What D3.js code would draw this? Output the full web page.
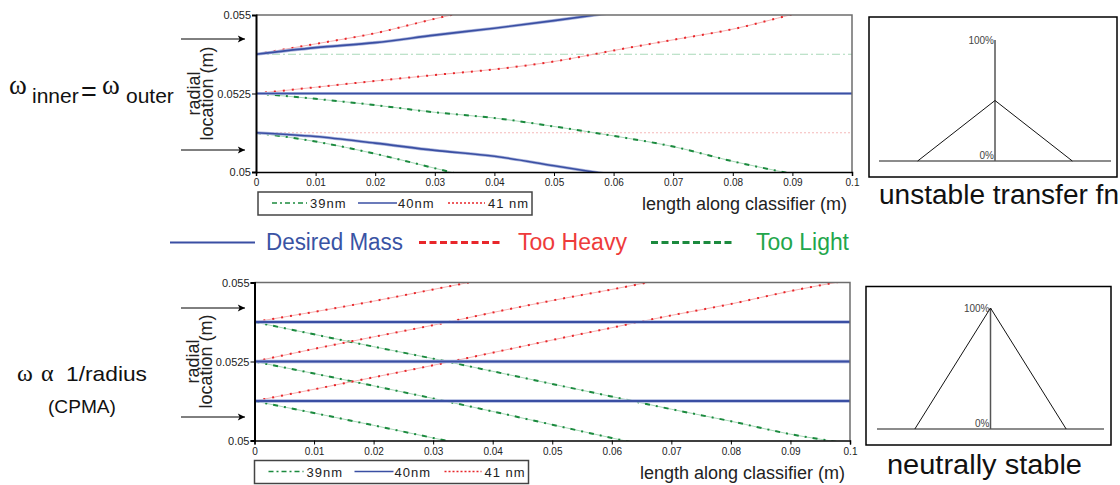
<!DOCTYPE html>
<html>
<head>
<meta charset="utf-8">
<script src="https://cdn.jsdelivr.net/npm/d3@7/dist/d3.min.js"></script>
<style>
  body { margin: 0; background: #fff; }
  svg { display: block; font-family: "Liberation Sans", Arial, sans-serif; }
</style>
</head>
<body>
<svg id="chart" width="1120" height="485"></svg>
<script>
// ---- data ----
var xSteps = [0, 0.01, 0.02, 0.03, 0.04, 0.05, 0.06, 0.07, 0.08, 0.09, 0.1];
var xTicks = [0, 0.01, 0.02, 0.03, 0.04, 0.05, 0.06, 0.07, 0.08, 0.09, 0.1];
var yTicks = [0.05, 0.0525, 0.055];
var yTickLabels = ["0.05", "0.0525", "0.055"];
var legendNames = ["39nm", "40nm", "41 nm"];

// top panel: omega inner = omega outer
var topFaint39 = [0.05375, 0.05375, 0.05375, 0.05375, 0.05375, 0.05375, 0.05375, 0.05375, 0.05375, 0.05375, 0.05375];
var topFaint41 = [0.05125, 0.05125, 0.05125, 0.05125, 0.05125, 0.05125, 0.05125, 0.05125, 0.05125, 0.05125, 0.05125];
var top39 = [
  [0.0525, 0.05233, 0.05213, 0.0519, 0.05172, 0.05145, 0.05115, 0.05081, 0.05034, 0.04994],
  [0.05125, 0.05097, 0.05058, 0.05012, 0.04965]
];
var top40 = [
  [0.05375, 0.05396, 0.05412, 0.05436, 0.05458, 0.05482, 0.05508],
  [0.0525, 0.0525, 0.0525, 0.0525, 0.0525, 0.0525, 0.0525, 0.0525, 0.0525, 0.0525, 0.0525],
  [0.05125, 0.05113, 0.05092, 0.05069, 0.0505, 0.0502, 0.0499]
];
var top41 = [
  [0.05375, 0.05408, 0.05442, 0.05488, 0.0553],
  [0.0525, 0.0527, 0.0529, 0.05309, 0.05327, 0.05352, 0.05387, 0.05421, 0.05455, 0.05502, 0.0555]
];

// bottom panel: omega ~ 1/radius (CPMA)
var bot39 = [
  [0.05375, 0.05336, 0.05297, 0.05259, 0.05219, 0.05179, 0.05139, 0.05099, 0.05061, 0.0502, 0.0499],
  [0.0525, 0.05212, 0.05173, 0.05133, 0.05092, 0.0505, 0.05008, 0.04968],
  [0.05125, 0.05087, 0.05048, 0.05008, 0.04968]
];
var bot40 = [
  [0.05375, 0.05375, 0.05375, 0.05375, 0.05375, 0.05375, 0.05375, 0.05375, 0.05375, 0.05375, 0.05375],
  [0.0525, 0.0525, 0.0525, 0.0525, 0.0525, 0.0525, 0.0525, 0.0525, 0.0525, 0.0525, 0.0525],
  [0.05125, 0.05125, 0.05125, 0.05125, 0.05125, 0.05125, 0.05125, 0.05125, 0.05125, 0.05125, 0.05125]
];
var bot41 = [
  [0.05375, 0.05407, 0.05441, 0.05478, 0.05515],
  [0.0525, 0.0529, 0.05328, 0.05365, 0.05405, 0.05443, 0.05478, 0.05515],
  [0.05125, 0.05162, 0.052, 0.05238, 0.05278, 0.05318, 0.05357, 0.05396, 0.05432, 0.05473, 0.05508]
];

// transfer functions (x in units of peak half-width, y in %)
var tfX = [-1, 0, 1];
var unstableTF = [0, 50, 0];
var neutralTF = [0, 100, 0];

// ---- colours ----
var BLUE = "#3a4fa3", RED = "#e8262a", GREEN = "#1b8a3e";

var svg = d3.select("#chart");
var defs = svg.append("defs");
defs.append("marker").attr("id", "arrow")
  .attr("viewBox", "0 0 10 10").attr("refX", 9).attr("refY", 5)
  .attr("markerWidth", 9).attr("markerHeight", 9).attr("markerUnits", "userSpaceOnUse")
  .attr("orient", "auto")
  .append("path").attr("d", "M1,1 L9,5 L1,9 L3,5 Z").attr("fill", "#000");

function panel(o) {
  var x = d3.scaleLinear().domain([0, 0.1]).range([o.left, o.right]);
  var y = d3.scaleLinear().domain([0.05, 0.055]).range([o.bottom, o.top]);
  var g = svg.append("g");

  defs.append("clipPath").attr("id", o.id + "clip").append("rect")
    .attr("x", o.left).attr("y", o.top)
    .attr("width", o.right - o.left).attr("height", o.bottom - o.top);

  var line = d3.line()
    .x(function (d, i) { return x(xSteps[i]); })
    .y(function (d) { return y(d); })
    .curve(d3.curveMonotoneX);

  var plot = g.append("g").attr("clip-path", "url(#" + o.id + "clip)");

  // faint reference lines (top panel only)
  if (o.faint39) plot.append("path").attr("d", line(o.faint39)).attr("fill", "none")
    .attr("stroke", "#a9d9b9").attr("stroke-width", 1).attr("stroke-dasharray", "8,3,2,3");
  if (o.faint41) plot.append("path").attr("d", line(o.faint41)).attr("fill", "none")
    .attr("stroke", "#f5b9b9").attr("stroke-width", 1).attr("stroke-dasharray", "2,2");

  o.s39.forEach(function (s) {
    plot.append("path").attr("d", line(s)).attr("fill", "none")
      .attr("stroke", "#a9d9b9").attr("stroke-width", 1);
    plot.append("path").attr("d", line(s)).attr("fill", "none")
      .attr("stroke", GREEN).attr("stroke-width", 2).attr("stroke-dasharray", "5,6,2,6");
  });
  o.s41.forEach(function (s) {
    plot.append("path").attr("d", line(s)).attr("fill", "none")
      .attr("stroke", "#f6b3b3").attr("stroke-width", 1);
    plot.append("path").attr("d", line(s)).attr("fill", "none")
      .attr("stroke", RED).attr("stroke-width", 2).attr("stroke-dasharray", "2,7");
  });
  o.s40.forEach(function (s) {
    plot.append("path").attr("d", line(s)).attr("fill", "none")
      .attr("stroke", "#aab4dc").attr("stroke-width", o.blueW + 1.5);
    plot.append("path").attr("d", line(s)).attr("fill", "none")
      .attr("stroke", BLUE).attr("stroke-width", o.blueW);
  });

  // frame: grey top/right, black left/bottom axes
  g.append("path").attr("d", "M" + o.left + "," + o.top + "H" + o.right + "V" + o.bottom)
    .attr("fill", "none").attr("stroke", "#6d6d6d").attr("stroke-width", 1.5);

  var xa = g.append("g").attr("transform", "translate(0," + o.bottom + ")")
    .call(d3.axisBottom(x).tickValues(xTicks).tickSize(4).tickPadding(3)
      .tickFormat(function (d) { return d === 0 ? "0" : String(+d.toFixed(2)); }));
  xa.select(".domain").attr("stroke", "#000").attr("stroke-width", 1.5);
  xa.selectAll(".tick line").attr("stroke", "#000");
  xa.selectAll("text").attr("font-size", 10).attr("fill", "#222").attr("font-family", "Liberation Sans, Arial, sans-serif");

  var ya = g.append("g").attr("transform", "translate(" + o.left + ",0)")
    .call(d3.axisLeft(y).tickValues(yTicks).tickSize(4).tickPadding(1)
      .tickFormat(function (d, i) { return yTickLabels[i]; }));
  ya.select(".domain").attr("stroke", "#000").attr("stroke-width", 2);
  ya.selectAll(".tick line").attr("stroke", "#000");
  ya.selectAll("text").attr("font-size", 11).attr("fill", "#222").attr("font-family", "Liberation Sans, Arial, sans-serif");

  // y axis title, two rotated lines
  var midY = (o.top + o.bottom) / 2;
  g.append("text").attr("transform", "translate(" + (o.left - 56) + "," + midY + ") rotate(-90)")
    .attr("text-anchor", "middle").attr("font-size", 18).attr("fill", "#222").text("radial");
  g.append("text").attr("transform", "translate(" + (o.left - 43) + "," + midY + ") rotate(-90)")
    .attr("text-anchor", "middle").attr("font-size", 18).attr("fill", "#222").text("location (m)");

  // x axis title
  g.append("text").attr("x", o.right - 5).attr("y", o.bottom + 38).attr("text-anchor", "end")
    .attr("font-size", 18).attr("fill", "#222").text("length along classifier (m)");

  // legend box
  var lx = o.left + o.legDx, ly = o.bottom + 20;
  var lg = g.append("g").attr("transform", "translate(" + lx + "," + ly + ")");
  lg.append("rect").attr("width", 274).attr("height", 23)
    .attr("fill", "#fff").attr("stroke", "#444").attr("stroke-width", 1.5);
  var items = [
    { c: GREEN, dash: "5,3,2,3", x0: 14, x1: 49, tx: 52 },
    { c: BLUE, dash: null, x0: 100, x1: 139, tx: 140 },
    { c: RED, dash: "2,2", x0: 190, x1: 227, tx: 230 }
  ];
  items.forEach(function (it, i) {
    lg.append("line").attr("x1", it.x0).attr("x2", it.x1).attr("y1", 11).attr("y2", 11)
      .attr("stroke", it.c).attr("stroke-width", 1.6).attr("stroke-dasharray", it.dash);
    lg.append("text").attr("x", it.tx).attr("y", 16).attr("font-size", 13)
      .attr("letter-spacing", 1).attr("fill", "#222").text(legendNames[i]);
  });

  // arrows pointing at the inlet
  o.arrows.forEach(function (a) {
    g.append("line").attr("x1", 181).attr("x2", 245).attr("y1", a).attr("y2", a)
      .attr("stroke", "#000").attr("stroke-width", 1).attr("marker-end", "url(#arrow)");
  });
}

panel({ id: "top", left: 256, right: 852, top: 15, bottom: 172, legDx: 2, blueW: 1.6,
  faint39: topFaint39, faint41: topFaint41, s39: top39, s40: top40, s41: top41, arrows: [39, 150] });
panel({ id: "bot", left: 254.5, right: 850, top: 282.5, bottom: 440.5, legDx: 0, blueW: 2.2,
  s39: bot39, s40: bot40, s41: bot41, arrows: [308, 417] });

// transfer function boxes
function tfBox(o) {
  var g = svg.append("g");
  g.append("rect").attr("x", o.bx).attr("y", o.by).attr("width", o.bw).attr("height", o.bh)
    .attr("fill", "#fff").attr("stroke", "#000").attr("stroke-width", 1.5);
  var x = d3.scaleLinear().domain([-1.5, 1.5]).range([o.x0, o.x1]);
  var y = d3.scaleLinear().domain([0, 100]).range([o.y0, o.y100]);
  g.append("line").attr("x1", o.x0).attr("x2", o.x1).attr("y1", y(0)).attr("y2", y(0))
    .attr("stroke", "#666").attr("stroke-width", 1.5);
  g.append("line").attr("x1", x(0)).attr("x2", x(0)).attr("y1", y(0)).attr("y2", y(100))
    .attr("stroke", "#555").attr("stroke-width", 1.5);
  g.append("path").datum(o.vals)
    .attr("d", d3.line().x(function (d, i) { return x(tfX[i]); }).y(function (d) { return y(d); }))
    .attr("fill", "none").attr("stroke", "#111").attr("stroke-width", 1);
  g.append("text").attr("x", x(0) - 1).attr("y", y(100) + o.d100).attr("text-anchor", "end")
    .attr("font-size", 10).attr("fill", "#444").text("100%");
  g.append("text").attr("x", x(0) - 1).attr("y", y(0) - 2).attr("text-anchor", "end")
    .attr("font-size", 10).attr("fill", "#444").text("0%");
  g.append("text").attr("x", o.cx).attr("y", o.cy).attr("font-size", 27)
    .attr("textLength", o.cw).attr("lengthAdjust", "spacingAndGlyphs")
    .attr("fill", "#111").text(o.caption);
}
tfBox({ bx: 869, by: 17, bw: 248, bh: 160, x0: 879, x1: 1111, y0: 161, y100: 40, d100: 4,
  vals: unstableTF, caption: "unstable transfer fn", cx: 879, cy: 204, cw: 240 });
tfBox({ bx: 866, by: 286.5, bw: 245, bh: 158.5, x0: 877, x1: 1104, y0: 429, y100: 308, d100: 4,
  vals: neutralTF, caption: "neutrally stable", cx: 887, cy: 474, cw: 195 });

// central legend
var midLeg = [
  { c: BLUE, tc: "#3953a4", dash: null, w: 2, x0: 170, x1: 255, tx: 266, tw: 137, label: "Desired Mass" },
  { c: RED, tc: "#ee3b3b", dash: "7,3.5", w: 3, x0: 419, x1: 503, tx: 518, tw: 109, label: "Too Heavy" },
  { c: GREEN, tc: "#22a64b", dash: "7,3.5", w: 3, x0: 651, x1: 735, tx: 756, tw: 93, label: "Too Light" }
];
midLeg.forEach(function (m) {
  svg.append("line").attr("x1", m.x0).attr("x2", m.x1).attr("y1", 242.5).attr("y2", 242.5)
    .attr("stroke", m.c).attr("stroke-width", m.w).attr("stroke-dasharray", m.dash);
  svg.append("text").attr("x", m.tx).attr("y", 250).attr("font-size", 23)
    .attr("textLength", m.tw).attr("lengthAdjust", "spacingAndGlyphs")
    .attr("fill", m.tc).text(m.label);
});

// left side annotations
var lt = svg.append("g").attr("fill", "#111");
var t1 = lt.append("text").attr("y", 94);
t1.append("tspan").attr("x", 9).attr("font-family", "Liberation Serif, serif").attr("font-size", 27).text("ω");
t1.append("tspan").attr("x", 32).attr("y", 102.5).attr("font-size", 21).text("inner");
t1.append("tspan").attr("x", 81).attr("y", 101).attr("font-size", 27).text("=");
t1.append("tspan").attr("x", 102).attr("y", 94).attr("font-family", "Liberation Serif, serif").attr("font-size", 27).text("ω");
t1.append("tspan").attr("x", 126).attr("y", 102.5).attr("font-size", 21).text("outer");

var t2 = lt.append("text").attr("y", 380.5);
t2.append("tspan").attr("x", 17).attr("font-family", "Liberation Serif, serif").attr("font-size", 24).text("ω");
t2.append("tspan").attr("x", 41).attr("font-family", "Liberation Serif, serif").attr("font-size", 24).text("α");
lt.append("text").attr("x", 66).attr("y", 380.5).attr("font-size", 21)
  .attr("textLength", 81).attr("lengthAdjust", "spacingAndGlyphs").text("1/radius");
lt.append("text").attr("x", 48).attr("y", 413).attr("font-size", 19)
  .attr("textLength", 68).attr("lengthAdjust", "spacingAndGlyphs").text("(CPMA)");
</script>
</body>
</html>
